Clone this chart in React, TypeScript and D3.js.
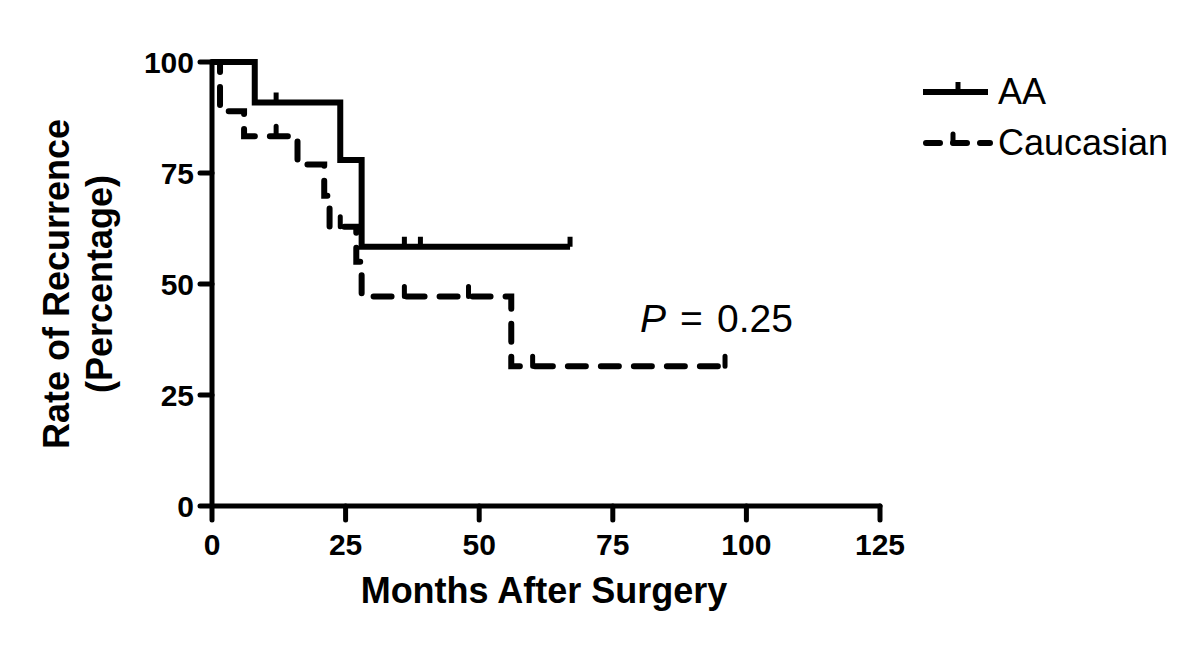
import React from "react";
import * as d3 from "d3";

const xTicks = [0, 25, 50, 75, 100, 125];
const yTicks = [0, 25, 50, 75, 100];

// AA (solid) Kaplan-Meier steps: [month, percent]
const aaSteps: [number, number][] = [
  [0, 100], [8, 90.9], [24, 77.9], [28, 58.4], [67, 58.4],
];
const aaCensored: [number, number][] = [
  [12, 90.9], [36, 58.4], [39, 58.4], [67, 58.4],
];

// Caucasian (dashed)
const caSteps: [number, number][] = [
  [0, 100], [1.5, 88.9], [6, 83.3], [16, 76.9], [21, 69.9], [22, 62.9],
  [27, 55.0], [28, 47.2], [56, 31.5], [96, 31.5],
];
const caCensored: [number, number][] = [
  [12, 83.3], [24, 62.9], [36, 47.2], [48, 47.2], [60, 31.5], [96, 31.5],
];

const seriesNames = ["AA", "Caucasian"];

const FONT = "Arial, 'Liberation Sans', sans-serif";

export default function App() {
  const x = d3.scaleLinear().domain([0, 125]).range([212, 880]);
  const y = d3.scaleLinear().domain([0, 100]).range([506, 62]);
  const line = d3
    .line<[number, number]>()
    .x((d) => x(d[0]))
    .y((d) => y(d[1]))
    .curve(d3.curveStepAfter);

  const tickPath = (pts: [number, number][]) =>
    pts.map((d) => `M${x(d[0])},${y(d[1])}V${y(d[1]) - 10}`).join("");

  return (
    <svg
      width={1200}
      height={647}
      style={{ position: "absolute", left: 0, top: 0, background: "#fff" }}
      fontFamily={FONT}
    >
      <rect width={1200} height={647} fill="#fff" />
      {/* axes */}
      <g stroke="#000" strokeWidth={5} strokeLinecap="round" fill="none">
        <line x1={x(0)} x2={x(125)} y1={y(0)} y2={y(0)} />
        <line x1={x(0)} x2={x(0)} y1={y(0)} y2={y(100)} />
        {xTicks.map((t) => (
          <line key={"xt" + t} x1={x(t)} x2={x(t)} y1={y(0)} y2={y(0) + 14} />
        ))}
        {yTicks.map((t) => (
          <line key={"yt" + t} x1={x(0) - 12} x2={x(0)} y1={y(t)} y2={y(t)} />
        ))}
      </g>
      <g fontWeight="bold" fontSize={30} fill="#000">
        {xTicks.map((t) => (
          <text key={"xl" + t} x={x(t)} y={555} textAnchor="middle">
            {t}
          </text>
        ))}
        {yTicks.map((t) => (
          <text key={"yl" + t} x={194} y={y(t) + 11} textAnchor="end">
            {t}
          </text>
        ))}
      </g>
      {/* axis titles */}
      <text x={544} y={603} textAnchor="middle" fontWeight="bold" fontSize={36}>
        Months After Surgery
      </text>
      <g transform={`translate(0, ${(y(0) + y(100)) / 2}) rotate(-90)`}>
        <text x={0} y={69} textAnchor="middle" fontWeight="bold" fontSize={36}>
          Rate of Recurrence
        </text>
        <text x={0} y={112} textAnchor="middle" fontWeight="bold" fontSize={36}>
          (Percentage)
        </text>
      </g>
      {/* series */}
      <path
        d={line(aaSteps) ?? ""}
        fill="none"
        stroke="#000"
        strokeWidth={6}
        strokeLinejoin="miter"
      />
      <path d={tickPath(aaCensored)} stroke="#000" strokeWidth={5} fill="none" />
      <path
        d={line(caSteps) ?? ""}
        fill="none"
        stroke="#000"
        strokeWidth={6}
        strokeDasharray="18 15"
        strokeLinecap="round"
      />
      <path d={tickPath(caCensored)} stroke="#000" strokeWidth={5} strokeLinecap="round" fill="none" />
      {/* P value */}
      <text y={332} fontSize={39}>
        <tspan x={640} fontStyle="italic">P</tspan>
        <tspan x={680}>=</tspan>
        <tspan x={717}>0.25</tspan>
      </text>
      {/* legend */}
      <g>
        <line x1={923} x2={988} y1={92} y2={92} stroke="#000" strokeWidth={6} />
        <line x1={958} x2={958} y1={92} y2={82} stroke="#000" strokeWidth={5} />
        <text x={998} y={104} fontSize={36}>{seriesNames[0]}</text>
        <line
          x1={926}
          x2={990}
          y1={143}
          y2={143}
          stroke="#000"
          strokeWidth={6}
          strokeDasharray="14 13"
          strokeLinecap="round"
        />
        <line x1={953} x2={953} y1={143} y2={134} stroke="#000" strokeWidth={5} strokeLinecap="round" />
        <text x={998} y={155} fontSize={36}>{seriesNames[1]}</text>
      </g>
    </svg>
  );
}
